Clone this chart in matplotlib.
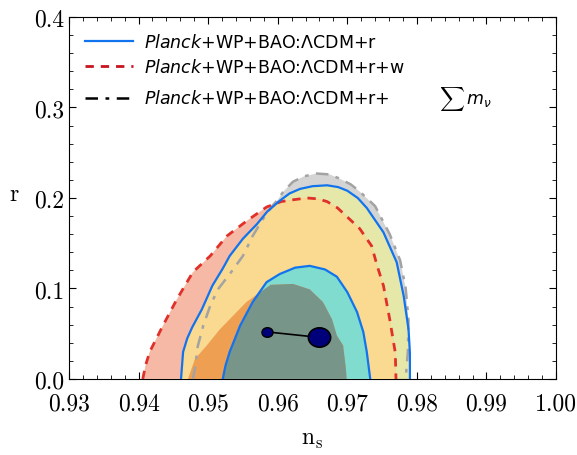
import numpy as np
import matplotlib
matplotlib.use("Agg")
import matplotlib.pyplot as plt
from matplotlib.lines import Line2D
from matplotlib.path import Path

plt.rcParams['mathtext.fontset'] = 'custom'
plt.rcParams['mathtext.rm'] = 'cmr10'
plt.rcParams['mathtext.it'] = 'DejaVu Sans:italic'
plt.rcParams['mathtext.fallback'] = 'cm'

# contour boundaries (n_s, r)
# Planck+WP+BAO: LCDM+r+sum m_nu, 95%
ns_mnu95 = [0.9478, 0.9481, 0.9485, 0.9493, 0.9503, 0.9514, 0.9533, 0.9550, 0.9564, 0.9579,
            0.9592, 0.9600, 0.9608, 0.9622, 0.9638, 0.9656, 0.9675, 0.9690, 0.9705, 0.9718,
            0.9740, 0.9761, 0.9776, 0.9784, 0.9788, 0.9787, 0.9784]
r_mnu95 = [0.000, 0.011, 0.036, 0.059, 0.081, 0.099, 0.118, 0.136, 0.158, 0.177,
           0.191, 0.198, 0.207, 0.218, 0.224, 0.227, 0.226, 0.221, 0.215, 0.207,
           0.191, 0.160, 0.131, 0.100, 0.065, 0.030, 0.000]

# Planck+WP+BAO: LCDM+r, 95% and 68%
ns_r95 = [0.9461, 0.9464, 0.9470, 0.9477, 0.9491, 0.9506, 0.9521, 0.9531, 0.9550, 0.9570,
          0.9585, 0.9603, 0.9617, 0.9632, 0.9650, 0.9671, 0.9687, 0.9700, 0.9715, 0.9728,
          0.9752, 0.9771, 0.9781, 0.9788, 0.9790, 0.9790]
r_r95 = [0.000, 0.030, 0.045, 0.057, 0.077, 0.103, 0.122, 0.136, 0.155, 0.171,
         0.185, 0.197, 0.205, 0.210, 0.213, 0.214, 0.212, 0.208, 0.200, 0.189,
         0.162, 0.129, 0.092, 0.055, 0.029, 0.000]
ns_r68 = [0.9521, 0.9525, 0.9531, 0.9546, 0.9564, 0.9584, 0.9603, 0.9625, 0.9646, 0.9668,
          0.9685, 0.9700, 0.9714, 0.9723, 0.9728, 0.9733]
r_r68 = [0.000, 0.015, 0.030, 0.059, 0.085, 0.107, 0.116, 0.123, 0.125, 0.121,
         0.113, 0.096, 0.074, 0.052, 0.030, 0.000]

# Planck+WP+BAO: LCDM+r+w, 95% and 68%
ns_w95 = [0.9406, 0.9410, 0.9416, 0.9435, 0.9455, 0.9478, 0.9503, 0.9527, 0.9556, 0.9584,
          0.9605, 0.9622, 0.9642, 0.9658, 0.9671, 0.9686, 0.9700, 0.9718, 0.9735, 0.9743,
          0.9752, 0.9761, 0.9769, 0.9770]
r_w95 = [0.000, 0.015, 0.030, 0.059, 0.088, 0.118, 0.136, 0.158, 0.175, 0.190,
         0.196, 0.198, 0.200, 0.199, 0.196, 0.189, 0.179, 0.166, 0.147, 0.125,
         0.103, 0.066, 0.029, 0.000]
ns_w68 = [0.9471, 0.9481, 0.9498, 0.9517, 0.9536, 0.9555, 0.9575, 0.9590, 0.9622, 0.9646,
          0.9665, 0.9678, 0.9685, 0.9694, 0.9698, 0.9699]
r_w68 = [0.000, 0.022, 0.037, 0.055, 0.070, 0.085, 0.096, 0.104, 0.105, 0.099,
         0.085, 0.066, 0.048, 0.037, 0.011, 0.000]

# best fit points
ns_best = [0.9585, 0.9659]
r_best = [0.052, 0.046]

fig = plt.figure(figsize=(5.77, 4.56), dpi=100)
ax = fig.add_axes([0.1196, 0.1667, 0.844, 0.7939])

# 95% regions
ax.fill(ns_mnu95, r_mnu95, color='#d4d4d4', lw=0, zorder=1)
ax.fill(ns_r95, r_r95, color='#e6e8a9', lw=0, zorder=2)
red95 = ax.fill(ns_w95, r_w95, color='#f5b9a5', lw=0, zorder=3)[0]
overlap95 = ax.fill(ns_r95, r_r95, color='#f9da90', lw=0, zorder=4)[0]
overlap95.set_clip_path(red95)

# 68% regions
ax.fill(ns_r68, r_r68, color='#80dccf', lw=0, zorder=5)
red68 = ax.fill(ns_w68, r_w68, color='#ee9f52', lw=0, zorder=6)[0]
overlap68 = ax.fill(ns_r68, r_r68, color='#78958a', lw=0, zorder=7)[0]
overlap68.set_clip_path(red68)

# contour lines
ax.plot(ns_mnu95, r_mnu95, color='#a3a3a3', lw=1.8, dashes=(5, 3, 1.5, 3), zorder=8)
ax.plot(ns_w95, r_w95, color='#e0302a', lw=2.0, dashes=(3, 2.5), zorder=9)
ax.plot(ns_r95, r_r95, color='#1273ee', lw=1.6, zorder=10)
ax.plot(ns_r68, r_r68, color='#1273ee', lw=1.6, zorder=10)

# best fit points
ell = Path.unit_circle()
ell = Path(ell.vertices * [1.15, 1.0], ell.codes)
ax.plot(ns_best, r_best, color='black', lw=1.2, zorder=11)
ax.plot(ns_best[0], r_best[0], ls='none', marker=ell, ms=8, mfc='#00007a', mec='black', mew=1, zorder=12)
ax.plot(ns_best[1], r_best[1], ls='none', marker=ell, ms=16, mfc='#00007a', mec='black', mew=1.2, zorder=12)

ax.set_xlim(0.93, 1.00)
ax.set_ylim(0.0, 0.4)
ax.set_xticks(np.arange(0.93, 1.001, 0.01))
ax.set_yticks(np.arange(0.0, 0.401, 0.1))
ax.set_xticks(np.arange(0.93, 1.001, 0.002), minor=True)
ax.set_yticks(np.arange(0.0, 0.401, 0.02), minor=True)
ax.set_xticklabels(['%.2f' % v for v in np.arange(0.93, 1.001, 0.01)])
ax.set_yticklabels(['%.1f' % v for v in np.arange(0.0, 0.401, 0.1)])
ax.tick_params(which='both', direction='in', top=True, right=True)
ax.tick_params(which='major', length=5, labelsize=17)
ax.tick_params(which='minor', length=3)
ax.tick_params(axis='x', which='major', pad=10)
for lab in ax.get_xticklabels() + ax.get_yticklabels():
    lab.set_fontfamily('cmr10')

ax.set_xlabel(r'$\mathrm{n_s}$', fontsize=17)
ax.set_ylabel('r', fontsize=17, family='cmr10', rotation=0)
ax.xaxis.set_label_coords(0.5, -0.13)
ax.yaxis.set_label_coords(-0.113, 0.48)

handles = [Line2D([], [], color='#1273ee', lw=1.6),
           Line2D([], [], color='#c8141e', lw=2.0, dashes=(3, 2.5)),
           Line2D([], [], color='black', lw=1.8, dashes=(5, 3, 1.5, 3))]
labels = [r'$\mathit{Planck}$+WP+BAO:ΛCDM+r',
          r'$\mathit{Planck}$+WP+BAO:ΛCDM+r+w',
          r'$\mathit{Planck}$+WP+BAO:ΛCDM+r+         $\sum\, m_\nu$']
ax.legend(handles, labels, loc='upper left', frameon=False, fontsize=12.5,
          handlelength=2.8, labelspacing=0.45, borderaxespad=0.5, handletextpad=0.6)

fig.savefig('out.png', dpi=100)
